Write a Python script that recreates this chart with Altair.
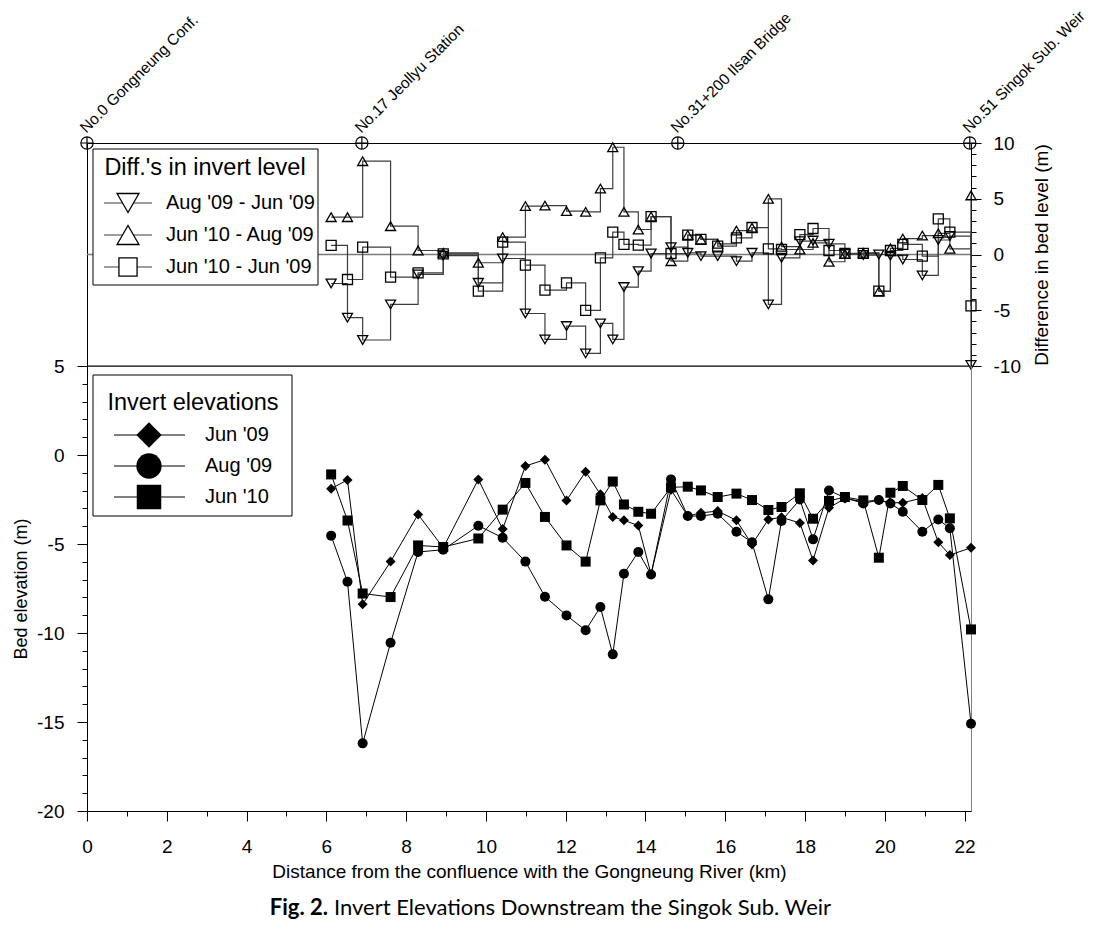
import altair as alt
import pandas as pd

FONT = "Liberation Sans"
CAP_FONT = "Lato"

# ---- cross-section positions (km from the confluence) ----
km = [6.12, 6.53, 6.91, 7.61, 8.30, 8.93, 9.81, 10.42, 10.99, 11.48,
      12.02, 12.50, 12.87, 13.18, 13.46, 13.82, 14.14, 14.64, 15.06, 15.39,
      15.81, 16.28, 16.67, 17.08, 17.41, 17.87, 18.20, 18.60, 19.00, 19.46,
      19.85, 20.14, 20.45, 20.94, 21.34, 21.63, 22.16]

# ---- invert elevations (m) ----
jun09 = [-1.89, -1.40, -8.39, -5.99, -3.34, -5.21, -1.37, -4.16, -0.62, -0.26,
         -2.55, -0.94, -2.21, -3.48, -3.67, -3.96, -6.70, -1.95, -3.43, -3.25,
         -3.15, -3.67, -5.03, -3.62, -3.50, -3.82, -5.92, -2.96, -2.45, -2.62,
         -2.53, -2.68, -2.68, -2.42, -4.90, -5.62, -5.21]
aug09 = [-4.53, -7.12, -16.2, -10.55, -5.45, -5.32, -3.97, -4.65, -5.99, -7.96,
         -9.01, -9.85, -8.54, -11.2, -6.67, -5.45, -6.71, -1.37, -3.43, -3.43,
         -3.30, -4.31, -4.90, -8.11, -3.71, -2.50, -4.74, -1.99, -2.40, -2.72,
         -2.53, -2.72, -3.19, -4.31, -3.62, -4.12, -15.1]
jun10 = [-1.09, -3.68, -7.78, -7.98, -5.08, -5.17, -4.69, -3.07, -1.57, -3.48,
         -5.08, -5.99, -2.55, -1.49, -2.78, -3.19, -3.30, -1.82, -1.78, -1.99,
         -2.36, -2.17, -2.53, -3.09, -2.92, -2.15, -3.58, -2.58, -2.36, -2.55,
         -5.77, -2.12, -1.74, -2.53, -1.68, -3.56, -9.80]

# ---- differences in invert level (m) ----
d_aug09_jun09 = [-2.6, -5.67, -7.67, -4.48, -1.79, -0.1, -2.54, -0.36, -5.29, -7.62,
                 -6.42, -8.87, -6.18, -7.62, -2.92, -1.49, 0.09, 0.66, 0.15, -0.15,
                 -0.15, -0.6, 0.15, -4.48, -0.3, 1.2, 1.25, 0.96, 0.05, -0.05,
                 0.0, -0.1, -0.45, -1.88, 1.3, 1.65, -9.9]
d_jun10_aug09 = [3.35, 3.35, 8.37, 2.54, 0.36, 0.15, -0.74, 1.56, 4.34, 4.39,
                 3.89, 3.83, 5.91, 9.62, 3.83, 2.24, 3.4, -0.6, 1.74, 1.35,
                 0.96, 2.15, 2.4, 4.99, 0.7, 0.45, 1.05, -0.65, 0.05, 0.15,
                 -3.3, 0.55, 1.43, 1.7, 1.9, 0.51, 5.3]
d_jun10_jun09 = [0.81, -2.24, 0.66, -2.03, -1.64, 0.05, -3.28, 1.11, -0.95, -3.19,
                 -2.54, -5.02, -0.3, 2.0, 0.9, 0.84, 3.4, 0.09, 1.74, 1.35,
                 0.75, 1.5, 2.42, 0.51, 0.45, 1.79, 2.33, 0.36, 0.1, 0.1,
                 -3.28, 0.36, 0.9, -0.15, 3.2, 2.0, -4.6]

elev_series = ["Jun '09", "Aug '09", "Jun '10"]
elev_shapes = ["diamond", "circle", "square"]
diff_series = ["Aug '09 - Jun '09", "Jun '10 - Aug '09", "Jun '10 - Jun '09"]
diff_shapes = ["triangle-down", "triangle-up", "square"]

station_names = ["No.0 Gongneung Conf.", "No.17 Jeollyu Station",
                 "No.31+200 Ilsan Bridge", "No.51 Singok Sub. Weir"]
station_km = [0.0, 6.89, 14.81, 22.13]

x_ticks = list(range(0, 23))
bed_ticks = list(range(-20, 6))
diff_ticks = list(range(-10, 11))

x_title = "Distance from the confluence with the Gongneung River (km)"
bed_title = "Bed elevation (m)"
diff_title = "Difference in bed level (m)"
diff_legend_title = "Diff.'s in invert level"
elev_legend_title = "Invert elevations"
caption_bold = "Fig. 2."
caption_rest = "Invert Elevations Downstream the Singok Sub. Weir"

W, H_TOP, H_BOT = 884, 223, 445
XDOM = [0, 22.16]


def long_df(names, arrays):
    rows = []
    for name, arr in zip(names, arrays):
        for k, v in zip(km, arr):
            rows.append({"km": k, "val": v, "series": name})
    return pd.DataFrame(rows)


elev_df = long_df(elev_series, [jun09, aug09, jun10])
diff_df = long_df(diff_series, [d_aug09_jun09, d_jun10_aug09, d_jun10_jun09])
station_df = pd.DataFrame({"km": station_km, "val": [10] * len(station_km), "name": station_names})

x_scale = alt.Scale(domain=XDOM, nice=False, zero=False)

# ================= TOP PANEL =================
x_top = alt.X("km:Q", scale=x_scale, axis=None)
y_top = alt.Y(
    "val:Q",
    scale=alt.Scale(domain=[-10, 10], nice=False, zero=False),
    axis=alt.Axis(
        orient="right", values=diff_ticks, grid=False,
        labelExpr="datum.value % 5 === 0 ? '' + datum.value : ''",
        tickSize={"condition": {"test": "datum.value % 5 === 0", "value": 10}, "value": 5},
        labelOverlap=False, labelFontSize=19, labelPadding=12, labelFont=FONT,
        labelColor="black", tickColor="black", domainColor="black",
        title=diff_title, titleFontSize=19, titleFont=FONT, titleFontWeight="normal",
        titleColor="black", titleAngle=270, titleBaseline="top", titlePadding=12,
    ),
)

zero_rule = alt.Chart(pd.DataFrame({"val": [0]})).mark_rule(
    color="#7a7a7a", strokeWidth=1.5).encode(y=y_top)

step_lines = alt.Chart(diff_df).mark_line(
    interpolate="step-after", color="#3c3c3c", strokeWidth=1.2).encode(
    x=x_top, y=y_top, detail="series:N")

diff_pts = alt.Chart(diff_df).mark_point(
    filled=False, color="black", opacity=1, size=100, strokeWidth=1.3).encode(
    x=x_top, y=y_top,
    shape=alt.Shape("series:N", scale=alt.Scale(domain=diff_series, range=diff_shapes), legend=None))

st_circle = alt.Chart(station_df).mark_point(
    shape="circle", filled=False, color="black", opacity=1, size=150, strokeWidth=1.2).encode(
    x=x_top, y=y_top)
st_cross = alt.Chart(station_df).mark_point(
    shape="M-1,0L1,0M0,-1L0,1", filled=False, color="black", opacity=1, size=150, strokeWidth=1.2).encode(
    x=x_top, y=y_top)
st_text = alt.Chart(station_df).mark_text(
    angle=315, align="left", baseline="alphabetic", dx=6, dy=-7,
    font=FONT, fontSize=15.5, color="black").encode(x=x_top, y=y_top, text="name:N")

top_layers = [zero_rule, step_lines, diff_pts, st_circle, st_cross, st_text]

# legend (top)
top_layers.append(alt.Chart(pd.DataFrame({"a": [0]})).mark_rect(
    fill="white", stroke="black", strokeWidth=1).encode(
    x=alt.value(6), x2=alt.value(231), y=alt.value(6), y2=alt.value(142)))
top_layers.append(alt.Chart(pd.DataFrame({"t": [diff_legend_title]})).mark_text(
    font=FONT, fontSize=23.5, align="center", baseline="middle", color="black").encode(
    x=alt.value(118), y=alt.value(25), text="t:N"))
leg_sizes_top = [480, 480, 330]
for i, (name, shp) in enumerate(zip(diff_series, diff_shapes)):
    yy = 60 + 32 * i
    d = pd.DataFrame({"s": [name]})
    top_layers.append(alt.Chart(d).mark_rule(color="#3c3c3c", strokeWidth=1.2).encode(
        x=alt.value(17), x2=alt.value(65), y=alt.value(yy)))
    top_layers.append(alt.Chart(d).mark_point(
        shape=shp, filled=True, fill="white", stroke="black", opacity=1, fillOpacity=1,
        strokeWidth=1.3, size=leg_sizes_top[i]).encode(x=alt.value(41), y=alt.value(yy)))
    top_layers.append(alt.Chart(d).mark_text(
        font=FONT, fontSize=20, align="left", baseline="middle", color="black").encode(
        x=alt.value(79), y=alt.value(yy), text="s:N"))

top = alt.layer(*top_layers).properties(
    width=W, height=H_TOP, view=alt.ViewBackground(stroke="black", strokeWidth=1))

# ================= BOTTOM PANEL =================
x_bot = alt.X(
    "km:Q", scale=x_scale,
    axis=alt.Axis(
        values=x_ticks, grid=False, labelFlush=False,
        labelExpr="datum.value % 2 === 0 ? '' + datum.value : ''",
        tickSize={"condition": {"test": "datum.value % 2 === 0", "value": 10}, "value": 5},
        labelOverlap=False, labelFontSize=19, labelPadding=16, labelFont=FONT,
        labelColor="black", tickColor="black", domainColor="black",
        title=x_title, titleFontSize=19, titleFont=FONT, titleFontWeight="normal",
        titleColor="black", titlePadding=6,
    ),
)
y_bot = alt.Y(
    "val:Q",
    scale=alt.Scale(domain=[-20, 5], nice=False, zero=False),
    axis=alt.Axis(
        values=bed_ticks, grid=False,
        labelExpr="datum.value % 5 === 0 ? '' + datum.value : ''",
        tickSize={"condition": {"test": "datum.value % 5 === 0", "value": 10}, "value": 5},
        labelOverlap=False, labelFontSize=19, labelPadding=13, labelFont=FONT,
        labelColor="black", tickColor="black", domainColor="black",
        title=bed_title, titleFontSize=18, titleFont=FONT, titleFontWeight="normal",
        titleColor="black", titlePadding=6,
    ),
)

top_edge = alt.Chart(pd.DataFrame({"a": [0]})).mark_rule(color="black", strokeWidth=1).encode(
    x=alt.value(0), x2=alt.value(W), y=alt.value(0))

elev_lines = alt.Chart(elev_df).mark_line(color="black", strokeWidth=1).encode(
    x=x_bot, y=y_bot, detail="series:N")
elev_pts = alt.Chart(elev_df).mark_point(
    filled=True, color="black", opacity=1, size=100).encode(
    x=x_bot, y=y_bot,
    shape=alt.Shape("series:N", scale=alt.Scale(domain=elev_series, range=elev_shapes), legend=None))

bot_layers = [elev_lines, elev_pts, top_edge]

bot_layers.append(alt.Chart(pd.DataFrame({"a": [0]})).mark_rect(
    fill="white", stroke="black", strokeWidth=1).encode(
    x=alt.value(6), x2=alt.value(205), y=alt.value(9), y2=alt.value(150)))
bot_layers.append(alt.Chart(pd.DataFrame({"t": [elev_legend_title]})).mark_text(
    font=FONT, fontSize=23.5, align="center", baseline="middle", color="black").encode(
    x=alt.value(106), y=alt.value(37), text="t:N"))
leg_sizes_bot = [640, 640, 600]
for i, (name, shp) in enumerate(zip(elev_series, elev_shapes)):
    yy = 69 + 31 * i
    d = pd.DataFrame({"s": [name]})
    bot_layers.append(alt.Chart(d).mark_rule(color="black", strokeWidth=1).encode(
        x=alt.value(27), x2=alt.value(98), y=alt.value(yy)))
    bot_layers.append(alt.Chart(d).mark_point(
        shape=shp, filled=True, color="black", opacity=1, size=leg_sizes_bot[i]).encode(
        x=alt.value(62), y=alt.value(yy)))
    bot_layers.append(alt.Chart(d).mark_text(
        font=FONT, fontSize=20, align="left", baseline="middle", color="black").encode(
        x=alt.value(118), y=alt.value(yy), text="s:N"))

# caption
bot_layers.append(alt.Chart(pd.DataFrame({"t": [caption_bold]})).mark_text(
    font=CAP_FONT, fontSize=22, fontWeight="bold", align="right", baseline="middle", color="black").encode(
    x=alt.value(241), y=alt.value(542), text="t:N"))
bot_layers.append(alt.Chart(pd.DataFrame({"t": [caption_rest]})).mark_text(
    font=CAP_FONT, fontSize=22, align="left", baseline="middle", color="black").encode(
    x=alt.value(247), y=alt.value(542), text="t:N"))

bottom = alt.layer(*bot_layers).properties(
    width=W, height=H_BOT, view=alt.ViewBackground(stroke="#808080", strokeWidth=1))

chart = alt.vconcat(top, bottom, spacing=0, bounds="flush").resolve_scale(
    shape="independent"
).properties(
    padding={"left": 4, "top": 0, "right": 2, "bottom": 0}
).configure(font=FONT)

chart.save("out.html", embed_options={"renderer": "svg", "actions": False})
